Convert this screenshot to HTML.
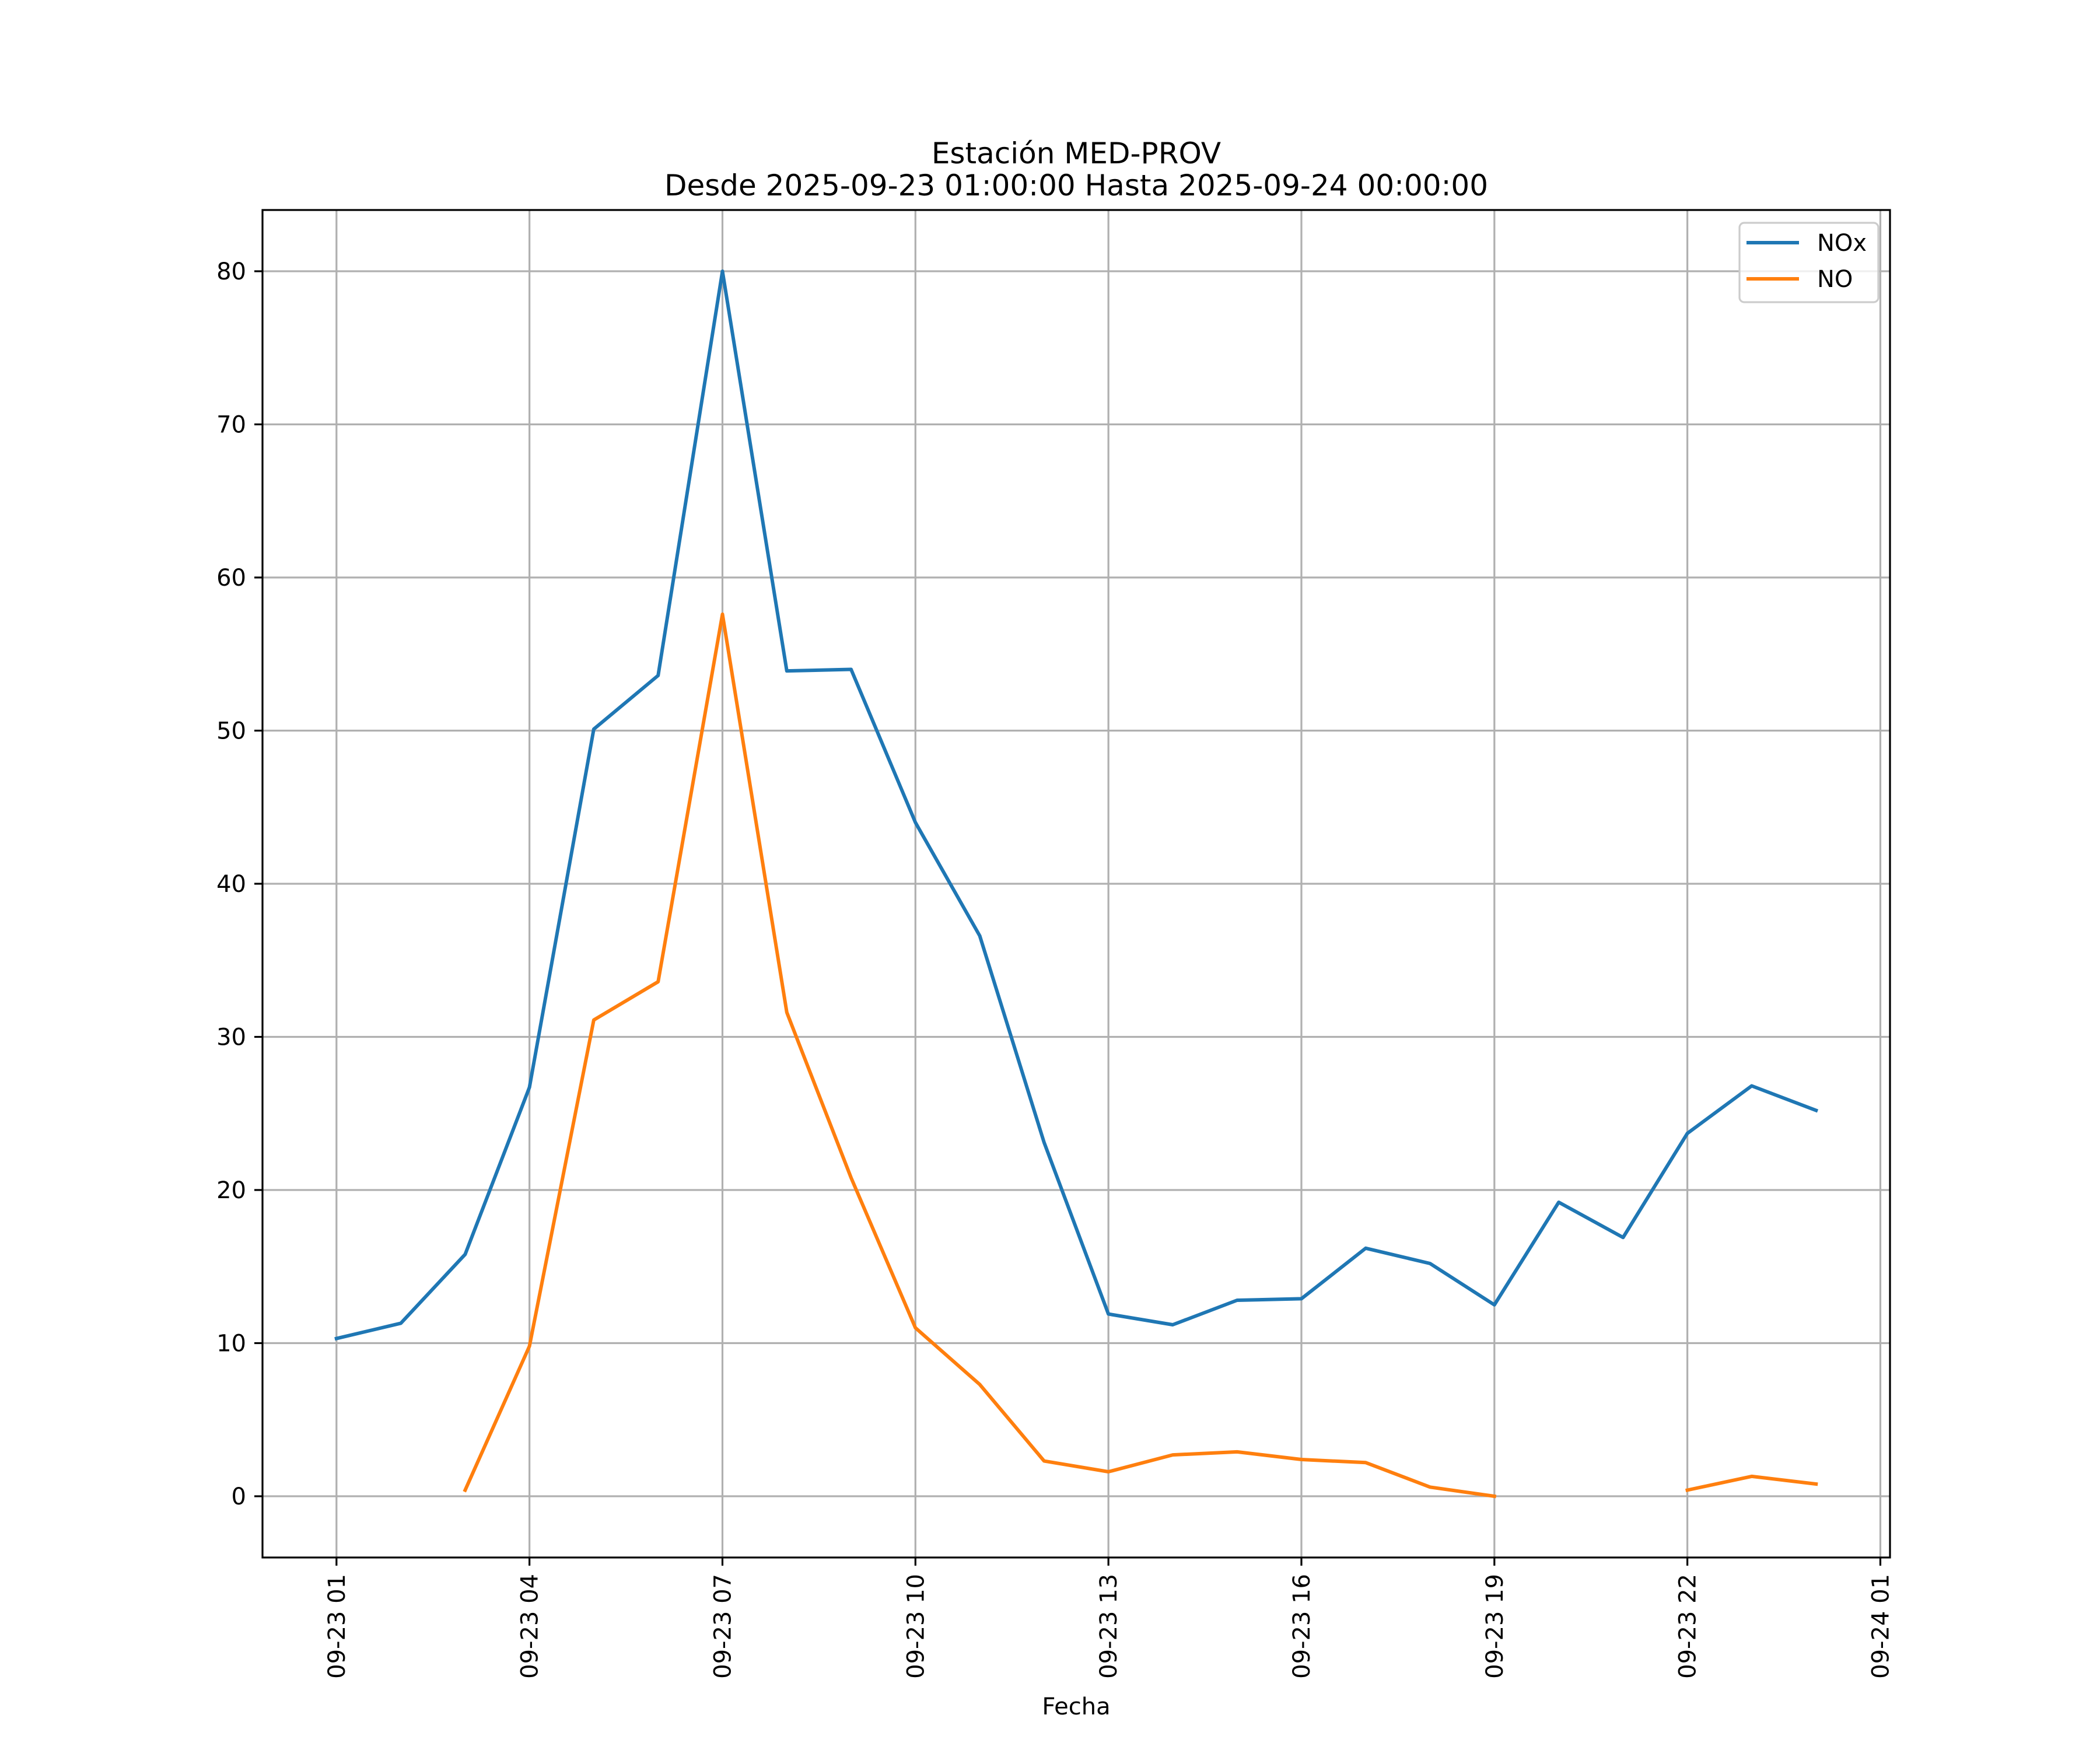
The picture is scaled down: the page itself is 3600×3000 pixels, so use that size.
<!DOCTYPE html>
<html><head><meta charset="utf-8"><style>html,body{margin:0;padding:0;background:#fff}svg{display:block}text{font-family:"DejaVu Sans","Liberation Sans",sans-serif;fill:#000}</style></head>
<body>
<svg id="chart" xmlns="http://www.w3.org/2000/svg" width="3600" height="3000" viewBox="0 0 3600 3000">
<rect width="3600" height="3000" fill="#fff"/>
<g id="grid"></g>
<g id="series"></g>
<rect x="450" y="360" width="2790" height="2310" fill="none" stroke="#000" stroke-width="3.2"/>
<g id="ticks"></g>
<text x="1845" y="280" font-size="50" text-anchor="middle">Estación MED-PROV</text>
<text x="1845" y="335" font-size="50" text-anchor="middle">Desde 2025-09-23 01:00:00 Hasta 2025-09-24 00:00:00</text>
<text x="1845" y="2939" font-size="40" text-anchor="middle">Fecha</text>
<g>
<rect x="2982" y="382" width="238" height="136" rx="8" fill="#fff" fill-opacity="0.8" stroke="#ccc" stroke-width="3.2"/>
<line x1="2994" y1="416" x2="3084" y2="416" stroke="#1f77b4" stroke-width="6"/>
<text x="3115" y="430" font-size="40">NOx</text>
<line x1="2994" y1="478" x2="3084" y2="478" stroke="#ff7f0e" stroke-width="6"/>
<text x="3115" y="492" font-size="40">NO</text>
</g>
</svg>
<script>
const hours = [1,2,3,4,5,6,7,8,9,10,11,12,13,14,15,16,17,18,19,20,21,22,23,24];
const noxValues = [10.3,11.3,15.8,26.7,50.1,53.6,80.0,53.9,54.0,44.0,36.6,23.1,11.9,11.2,12.8,12.9,16.2,15.2,12.5,19.2,16.9,23.7,26.8,25.2];
const noValues = [null,null,0.4,9.8,31.1,33.6,57.6,31.6,20.8,11.0,7.3,2.3,1.6,2.7,2.9,2.4,2.2,0.6,0.0,null,null,0.4,1.3,0.8];
const xTickHours = [1,4,7,10,13,16,19,22,25];
const xTickLabels = ["09-23 01","09-23 04","09-23 07","09-23 10","09-23 13","09-23 16","09-23 19","09-23 22","09-24 01"];
const yTicks = [0,10,20,30,40,50,60,70,80];

const NS = "http://www.w3.org/2000/svg";
const X0=450,X1=3240,Y0=2670,Y1=360;
const xMin=1-1.15,xMax=24+1.15,yMin=-4,yMax=84;
const xs=h=>X0+(h-xMin)/(xMax-xMin)*(X1-X0);
const ys=v=>Y0-(v-yMin)/(yMax-yMin)*(Y0-Y1);
function mk(tag,attrs,parent){const e=document.createElementNS(NS,tag);for(const k in attrs)e.setAttribute(k,attrs[k]);parent.appendChild(e);return e;}
const grid=document.getElementById('grid'),ticks=document.getElementById('ticks'),series=document.getElementById('series');
xTickHours.forEach((h,i)=>{
  const x=xs(h);
  const g=mk('line',{x1:x,x2:x,y1:Y1,y2:Y0,stroke:'#b0b0b0','stroke-width':3.2},grid);
  
  
  mk('line',{x1:x,x2:x,y1:Y0,y2:Y0+14,stroke:'#000','stroke-width':3.2},ticks);
  const t=mk('text',{x:0,y:0,'font-size':40,'text-anchor':'end',transform:`translate(${x+14},${Y0+28}) rotate(-90)`},ticks);
  t.textContent=xTickLabels[i];
  
  
});
yTicks.forEach(v=>{
  const y=ys(v);
  const g=mk('line',{x1:X0,x2:X1,y1:y,y2:y,stroke:'#b0b0b0','stroke-width':3.2},grid);
  
  
  mk('line',{x1:X0-14,x2:X0,y1:y,y2:y,stroke:'#000','stroke-width':3.2},ticks);
  const t=mk('text',{x:X0-28,y:y+14,'font-size':40,'text-anchor':'end'},ticks);
  t.textContent=v;
  
  
});
function drawSeries(vals,color,name){
  let d='',pen=false;
  vals.forEach((v,i)=>{
    if(v===null){pen=false;return;}
    d+=(pen?'L':'M')+xs(hours[i]).toFixed(1)+' '+ys(v).toFixed(1)+' ';pen=true;
  });
  const p=mk('path',{d:d,fill:'none',stroke:color,'stroke-width':6,'stroke-linejoin':'round','stroke-linecap':'square'},series);
  
  
}
drawSeries(noxValues,'#1f77b4','nox-line');
drawSeries(noValues,'#ff7f0e','no-line');
</script>
</body></html>
